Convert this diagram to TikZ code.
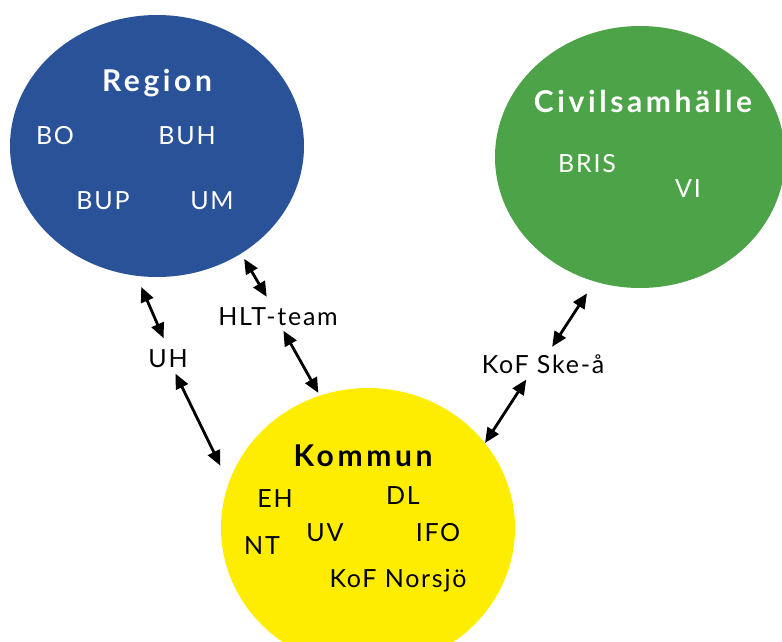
\documentclass[tikz,border=0pt]{standalone}
\usepackage{fontspec}
\setmainfont{Lato}[LetterSpace=7]
\newfontfamily\titlefont{Lato}[LetterSpace=12]
\usetikzlibrary{shapes.geometric,arrows.meta}
\definecolor{regionblue}{RGB}{42,82,152}
\definecolor{civilgreen}{RGB}{77,163,72}
\definecolor{kommunyellow}{RGB}{255,237,0}
\begin{document}
\begin{tikzpicture}[x=1pt,y=-1pt,
    sphere/.style={ellipse,inner sep=0pt},
    title/.style={font=\titlefont\fontsize{30}{34}\selectfont\bfseries,anchor=base},
    member/.style={font=\fontsize{25}{30}\selectfont,anchor=base},
    actor/.style={font=\fontsize{25}{30}\selectfont,text height=18pt,text depth=5pt,inner sep=0.5pt,anchor=base},
    link/.style={line width=2.8pt,{Triangle[length=15pt,width=13pt]}-{Triangle[length=15pt,width=13pt]}}]
    \clip (0,0) rectangle (782,642);
    \fill[white] (0,0) rectangle (782,642);
    \node[sphere,fill=regionblue,minimum width=294pt,minimum height=262pt] (region) at (157,146) {};
    \node[sphere,fill=civilgreen,minimum width=290pt,minimum height=262pt] (civil) at (640,157) {};
    \node[sphere,fill=kommunyellow,minimum width=294pt,minimum height=280pt] (kommun) at (368,528) {};
    \begin{scope}[white]
    \node[title] (regiontitle) at (157,92) {Region};
    \node[member] (bo) at (55,144) {BO}; \node[member] (buh) at (187,144) {BUH};
    \node[member] (bup) at (103,209) {BUP}; \node[member] (um) at (212,209) {UM};
    \node[title] (civiltitle) at (643,113) {Civilsamhälle};
    \node[member] (bris) at (587,172) {BRIS}; \node[member] (vi) at (688,197) {VI};
    \end{scope}
    \node[title] (kommuntitle) at (363,466) {Kommun};
    \node[member] (eh) at (275,507) {EH}; \node[member] (dl) at (403,504) {DL};
    \node[member] (uv) at (325,541) {UV}; \node[member] (ifo) at (438,541) {IFO};
    \node[member] (nt) at (262,554) {NT}; \node[member] (kofnorsjo) at (398,587) {KoF Norsjö};
    \node[actor] (uh) at (168,367) {UH};
    \node[actor] (hlt) at (278,325) {HLT-team};
    \node[actor] (kofske) at (543,373) {KoF Ske-å};
    \draw[link,shorten <=11pt,shorten >=12pt] (uh.north) -- (region.261);
    \draw[link,shorten <=1pt,shorten >=19pt] (uh.-60) -- (kommun.162);
    \draw[link,shorten <=11pt,shorten >=6pt] (hlt.115) -- (region.308);
    \draw[link,shorten <=0pt,shorten >=3pt] (hlt.-66) -- (kommun.110);
    \draw[link,shorten <=9pt,shorten >=14pt] (kofske.71) -- (civil.250);
    \draw[link,shorten <=1pt,shorten >=0pt] (kofske.217) -- (kommun.36);
\end{tikzpicture}
\end{document}
